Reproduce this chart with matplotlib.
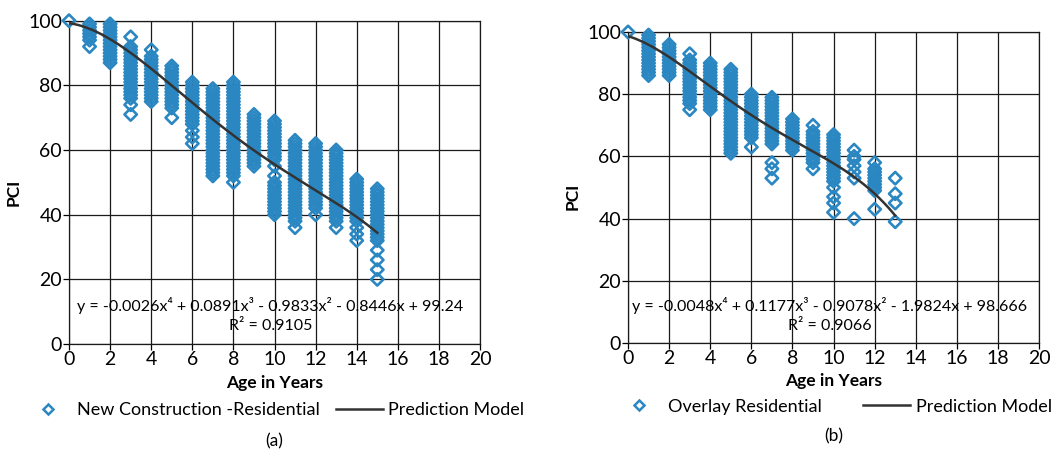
import numpy as np
import matplotlib.pyplot as plt
from matplotlib.lines import Line2D

plt.rcParams['font.family'] = ['Lato', 'DejaVu Sans']

# PCI readings per pavement age (index = age in years)
new_pci = [
    [100],
    [99, 98, 97, 96, 95, 94, 92],
    [99, 98, 97, 96, 95, 94, 93, 92, 91, 90, 89, 88, 87],
    [95, 92, 91, 90, 89, 88, 87, 86, 85, 84, 83, 82, 81, 80, 79, 78, 77, 76, 74, 71],
    [91, 89, 88, 87, 86, 85, 84, 83, 82, 81, 80, 79, 78, 77, 76, 75],
    [86, 85, 84, 83, 82, 81, 80, 79, 78, 77, 76, 75, 74, 73, 70],
    [81, 80, 79, 78, 77, 76, 75, 74, 73, 72, 71, 70, 69, 68, 66, 64, 62],
    [79, 78, 77, 76, 75, 74, 73, 72, 71, 70, 69, 68, 67, 66, 65, 64, 63, 62, 61, 60,
     59, 58, 57, 56, 55, 54, 53, 52],
    [81, 80, 79, 78, 77, 76, 75, 74, 73, 72, 71, 70, 69, 68, 67, 66, 65, 64, 63, 62,
     61, 60, 59, 58, 57, 56, 55, 54, 53, 52, 50],
    [71, 70, 69, 68, 67, 66, 65, 64, 63, 62, 61, 60, 59, 58, 57, 56, 55],
    [69, 68, 67, 66, 65, 64, 63, 62, 61, 60, 59, 58, 57, 55, 52, 50, 49, 48, 47, 46,
     45, 44, 43, 42, 41, 40],
    [63, 62, 61, 60, 59, 58, 57, 56, 55, 54, 53, 52, 51, 50, 49, 48, 47, 46, 45, 44,
     43, 42, 41, 40, 39, 38, 36],
    [62, 61, 60, 59, 58, 57, 56, 55, 54, 53, 52, 51, 50, 49, 48, 47, 46, 45, 44, 43,
     42, 40],
    [60, 59, 58, 57, 56, 55, 54, 53, 52, 51, 50, 49, 48, 47, 46, 45, 44, 43, 42, 41,
     40, 39, 38, 36],
    [51, 50, 49, 48, 47, 46, 45, 44, 43, 42, 41, 40, 39, 38, 36, 34, 32],
    [48, 47, 46, 45, 44, 43, 42, 41, 40, 39, 38, 37, 36, 35, 34, 33, 32, 29, 26, 23, 20],
]

overlay_pci = [
    [100],
    [99, 98, 97, 96, 95, 94, 93, 92, 91, 90, 89, 88, 87, 86],
    [96, 95, 94, 93, 92, 91, 90, 89, 88, 87, 86],
    [93, 91, 90, 89, 88, 87, 86, 85, 84, 83, 82, 81, 80, 79, 78, 77, 75],
    [90, 89, 88, 87, 86, 85, 84, 83, 82, 81, 80, 79, 78, 77, 76, 75],
    [88, 87, 86, 85, 84, 83, 82, 81, 80, 79, 78, 77, 76, 75, 74, 73, 72, 71, 70, 69,
     68, 67, 66, 65, 64, 63, 62, 61],
    [80, 79, 78, 77, 76, 75, 74, 73, 72, 71, 70, 69, 68, 67, 66, 63],
    [79, 78, 77, 76, 75, 74, 73, 72, 71, 70, 69, 68, 67, 66, 65, 64, 58, 56, 53],
    [72, 71, 70, 69, 68, 67, 66, 65, 64, 63, 62],
    [70, 68, 67, 66, 65, 64, 63, 62, 61, 60, 59, 58, 56],
    [67, 66, 65, 64, 63, 62, 61, 60, 59, 58, 57, 56, 55, 54, 53, 52, 50, 47, 45, 42],
    [62, 60, 59, 57, 55, 53, 40],
    [58, 56, 55, 54, 53, 52, 51, 50, 49, 43],
    [53, 48, 45, 39],
]

# trendline coefficients shown on the chart (x^4 ... x^0)
new_coef = [-0.0026, 0.0891, -0.9833, -0.8446, 99.24]
overlay_coef = [-0.0048, 0.1177, -0.9078, -1.9824, 98.666]
new_r2 = 0.9105
overlay_r2 = 0.9066

x_ticks = [0, 2, 4, 6, 8, 10, 12, 14, 16, 18, 20]
y_ticks = [0, 20, 40, 60, 80, 100]

blue = '#2b87c2'
dark = '#333333'


def eq_string(c):
    s = "y = %gx\u2074" % c[0]
    s += " + %gx\u00b3" % c[1] if c[1] >= 0 else " - %gx\u00b3" % -c[1]
    s += " + %gx\u00b2" % c[2] if c[2] >= 0 else " - %gx\u00b2" % -c[2]
    s += " + %gx" % c[3] if c[3] >= 0 else " - %gx" % -c[3]
    s += " + %g" % c[4]
    return s


def draw_panel(ax, pci_lists, coef, r2, series_name, tag, colspace):
    ages, vals = [], []
    for age, col in enumerate(pci_lists):
        ages += [age] * len(col)
        vals += col
    ax.scatter(ages, vals, marker='D', s=40, facecolors='none', edgecolors=blue,
               linewidths=1.9, clip_on=False, zorder=3)

    # prediction model
    xs = np.linspace(0, len(pci_lists) - 1, 200)
    ax.plot(xs, np.polyval(coef, xs), color=dark, lw=1.8, zorder=4)

    ax.set_xlim(0, 20)
    ax.set_ylim(0, 100)
    ax.set_xticks(x_ticks)
    ax.set_yticks(y_ticks)
    ax.grid(True, color='#1a1a1a', lw=0.9)
    ax.set_axisbelow(True)
    for sp in ax.spines.values():
        sp.set_color('#1a1a1a')
        sp.set_linewidth(0.9)
    ax.tick_params(labelsize=14, length=4, width=0.9, direction='out', pad=1)

    ax.text(0.49, 0.12, eq_string(coef), transform=ax.transAxes, ha='center',
            va='center', fontsize=11.5, zorder=5)
    ax.text(0.49, 0.055, "R\u00b2 = %.4f" % r2, transform=ax.transAxes, ha='center',
            va='center', fontsize=11.5, zorder=5)

    ax.set_xlabel("Age in Years", fontsize=12.5, fontweight='bold')
    ax.xaxis.set_label_coords(0.5, -0.095)
    ax.text(-0.135, 0.47, "PCI", transform=ax.transAxes, rotation=90, ha='center',
            va='center', fontsize=12.5, fontweight='bold')

    handles = [Line2D([], [], marker='D', ls='none', mfc='none', mec=blue, mew=1.8, ms=5),
               Line2D([], [], color=dark, lw=1.8)]
    ax.legend(handles, [series_name, "Prediction Model"], loc='center',
              bbox_to_anchor=(0.5, -0.205), ncol=2, frameon=False, fontsize=13,
              handlelength=2.6, handletextpad=0.3, columnspacing=colspace,
              borderaxespad=0)
    ax.text(0.5, -0.30, tag, transform=ax.transAxes, ha='center', va='center', fontsize=12.5)


fig = plt.figure(figsize=(10.52, 4.53), dpi=100)
ax1 = fig.add_axes([0.0656, 0.2406, 0.3907, 0.7137])
ax2 = fig.add_axes([0.597, 0.2428, 0.3907, 0.6866])

draw_panel(ax1, new_pci, new_coef, new_r2, "New Construction -Residential", "(a)", 0.9)
draw_panel(ax2, overlay_pci, overlay_coef, overlay_r2, "Overlay Residential", "(b)", 2.3)

fig.savefig("out.png", dpi=100)
